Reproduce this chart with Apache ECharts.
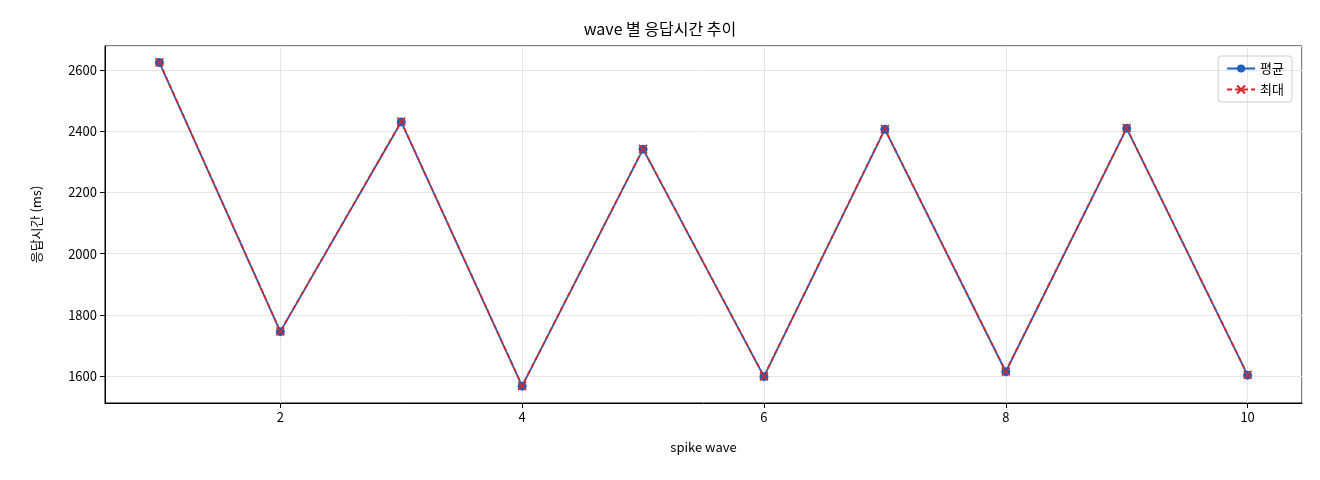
<!DOCTYPE html>
<html><head><meta charset="utf-8">
<script src="https://cdn.jsdelivr.net/npm/echarts@6/dist/echarts.min.js"></script>
<style>html,body{margin:0;background:#fff}#c{width:1320px;height:480px}</style>
</head><body><div id="c"></div>
<script>
const waves = [1,2,3,4,5,6,7,8,9,10];
const avgMs = [2624,1745,2430,1567,2341,1598,2406,1614,2409,1603];
const maxMs = [2625,1746,2431,1568,2342,1599,2407,1615,2410,1604];
const F = '"Noto Sans CJK KR","Noto Sans",sans-serif';
const chart = echarts.init(document.getElementById('c'));
chart.setOption({
  animation:false,
  textStyle:{fontFamily:F},
  title:{text:'wave 별 응답시간 추이',left:'center',top:16,textStyle:{fontSize:16,fontWeight:'normal',color:'#000',fontFamily:F}},
  grid:{left:105,right:18,top:46,bottom:77,show:true,borderColor:'#000',borderWidth:1},
  legend:{right:28,top:56,orient:'vertical',itemGap:8,borderColor:'#ccc',borderWidth:1,borderRadius:3,padding:[6,8],
    textStyle:{fontSize:13,color:'#000'},itemWidth:28,itemHeight:10,
    data:['평균','최대']},
  xAxis:{type:'value',min:0.55,max:10.45,name:'spike wave',nameLocation:'middle',nameGap:38,
    nameTextStyle:{fontSize:13,color:'#000'},
    axisLine:{lineStyle:{color:'#000'}},axisTick:{show:true,lineStyle:{color:'#000'}},
    axisLabel:{fontSize:13,color:'#000',showMinLabel:false,showMaxLabel:false,
      formatter:v=>(Math.abs(v-Math.round(v))<1e-6 && Math.round(v)%2===0)?String(Math.round(v)):''},
    splitLine:{lineStyle:{color:'#e6e6e6'}}},
  yAxis:{type:'value',min:1512,max:2678,name:'응답시간 (ms)',nameLocation:'middle',nameGap:62,
    nameTextStyle:{fontSize:13,color:'#000'},
    axisLine:{show:true,lineStyle:{color:'#000'}},axisTick:{show:true,lineStyle:{color:'#000'}},
    axisLabel:{fontSize:13,color:'#000',showMinLabel:false,showMaxLabel:false,
      formatter:v=>(v%200===0)?String(v):''},
    splitLine:{lineStyle:{color:'#e6e6e6'}}},
  series:[
    {name:'평균',type:'line',data:waves.map((w,i)=>[w,avgMs[i]]),symbol:'circle',symbolSize:9,
      itemStyle:{color:'#1f5fbf'},lineStyle:{color:'#1f5fbf',width:1.8}},
    {name:'최대',type:'line',data:waves.map((w,i)=>[w,maxMs[i]]),
      symbol:'path://M0,0L10,10M10,0L0,10',symbolSize:8,
      itemStyle:{color:'#d62728',borderColor:'#d62728',borderWidth:1.5},
      lineStyle:{color:'#d62728',width:1.8,type:[5,3]}}
  ]
});
</script></body></html>
